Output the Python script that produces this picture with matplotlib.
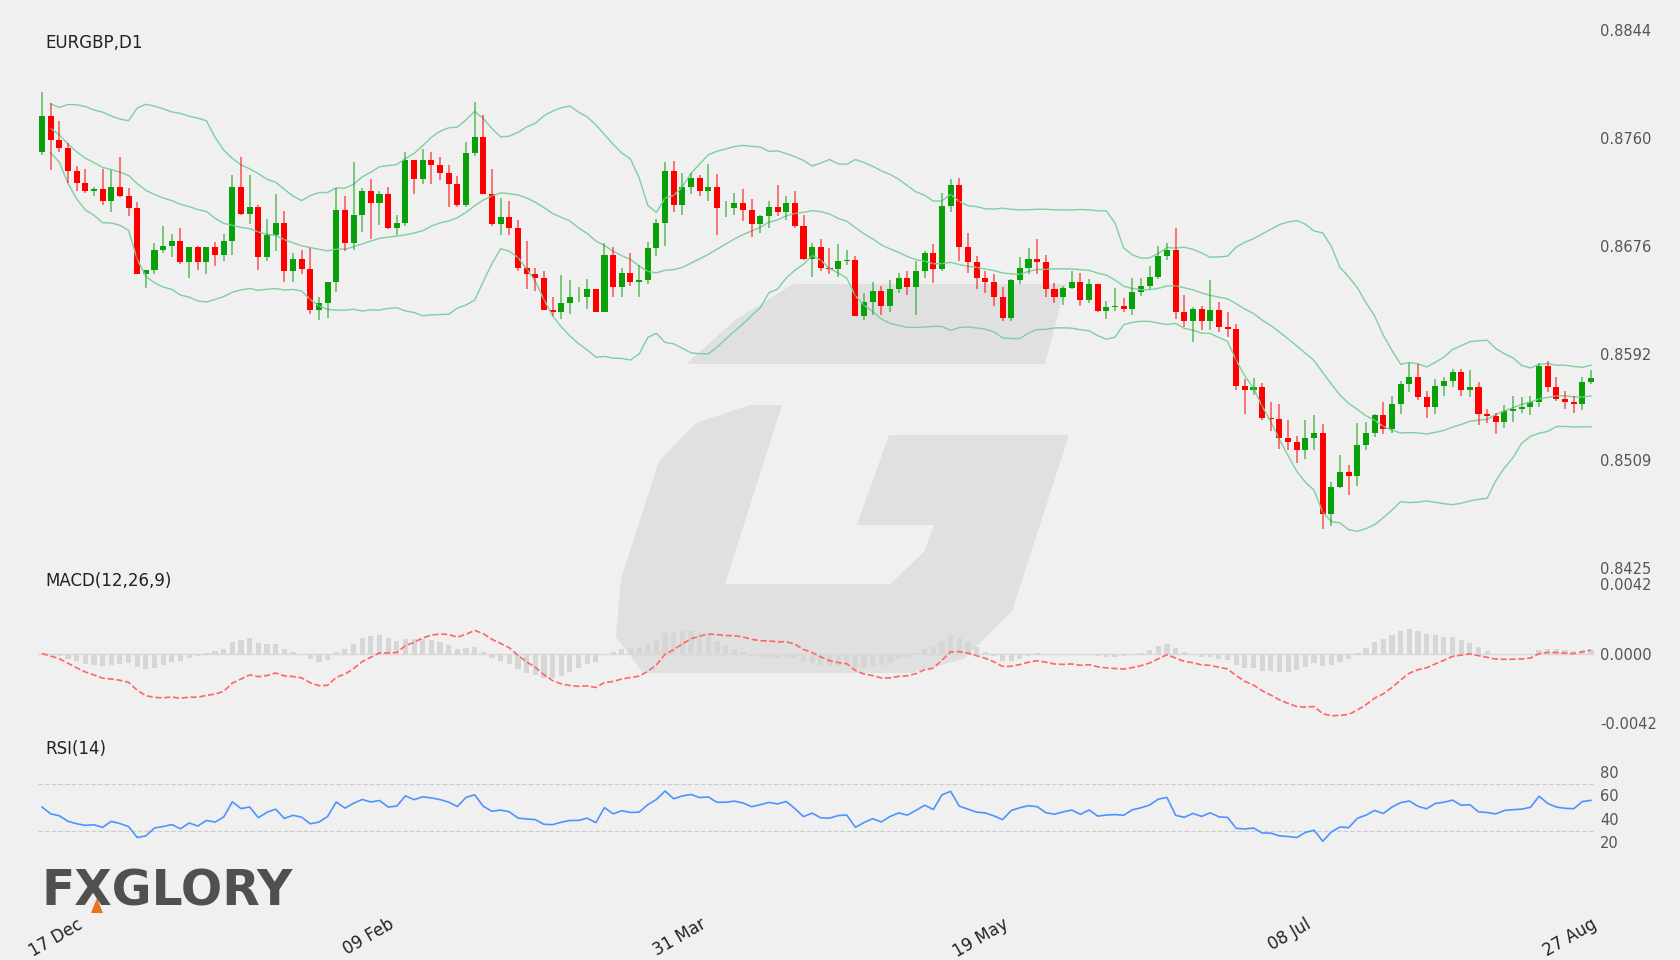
import numpy as np
import pandas as pd
import matplotlib
matplotlib.use("Agg")
import matplotlib.pyplot as plt
from matplotlib.patches import Polygon

symbol = "EURGBP,D1"
first_open = 0.8749
closes = [0.8777,0.8758,0.8752,0.8734,0.8725,0.8719,0.8720,0.8711,0.8722,0.8715,
          0.8705,0.8654,0.8657,0.8673,0.8676,0.8680,0.8663,0.8675,0.8663,0.8675,
          0.8669,0.8680,0.8722,0.8701,0.8706,0.8667,0.8684,0.8694,0.8656,0.8666,
          0.8658,0.8626,0.8631,0.8648,0.8704,0.8678,0.8700,0.8719,0.8709,0.8716,
          0.8690,0.8694,0.8743,0.8728,0.8743,0.8739,0.8733,0.8724,0.8708,0.8748,
          0.8761,0.8716,0.8693,0.8698,0.8690,0.8659,0.8654,0.8651,0.8626,0.8624,
          0.8631,0.8636,0.8636,0.8642,0.8624,0.8669,0.8644,0.8655,0.8648,0.8649,
          0.8674,0.8694,0.8734,0.8708,0.8722,0.8729,0.8719,0.8722,0.8705,0.8705,
          0.8709,0.8704,0.8693,0.8699,0.8706,0.8702,0.8709,0.8691,0.8666,0.8675,
          0.8659,0.8658,0.8664,0.8665,0.8621,0.8632,0.8641,0.8629,0.8642,0.8651,
          0.8644,0.8656,0.8670,0.8658,0.8707,0.8723,0.8675,0.8663,0.8651,0.8648,
          0.8636,0.8620,0.8649,0.8659,0.8666,0.8663,0.8642,0.8636,0.8643,0.8648,
          0.8634,0.8646,0.8625,0.8628,0.8629,0.8627,0.8640,0.8645,0.8652,0.8668,
          0.8673,0.8624,0.8617,0.8627,0.8617,0.8626,0.8613,0.8611,0.8567,0.8564,
          0.8566,0.8542,0.8541,0.8526,0.8523,0.8517,0.8526,0.8530,0.8467,0.8488,
          0.8500,0.8497,0.8521,0.8530,0.8544,0.8533,0.8553,0.8568,0.8574,0.8558,
          0.8550,0.8567,0.8571,0.8578,0.8564,0.8566,0.8545,0.8543,0.8539,0.8547,
          0.8549,0.8550,0.8554,0.8582,0.8566,0.8557,0.8554,0.8553,0.8570,0.8573]
# upper / lower wick lengths in pips
wick_up = [19,10,15,4,4,11,2,16,13,23,6,5,0,5,15,5,10,0,1,0,4,5,9,23,25,2,13,22,9,4,
           7,16,5,0,17,11,41,2,9,3,6,6,6,0,8,6,6,6,6,9,27,17,20,15,13,6,21,5,5,10,
           22,13,8,8,0,9,6,4,15,12,5,3,7,8,11,4,2,18,10,6,8,11,8,1,5,17,6,10,9,3,
           6,15,13,8,3,7,7,4,7,4,5,8,2,7,10,5,6,11,5,5,6,8,1,8,8,15,6,5,2,8,
           7,4,0,5,14,6,11,6,8,8,5,17,14,1,2,23,6,11,4,5,7,3,12,12,14,5,14,14,7,4,
           13,5,17,9,1,10,6,3,11,10,5,5,3,2,2,13,4,4,3,5,10,8,5,3,4,8,6,5,4,6]
wick_dn = [2,23,3,9,6,2,4,3,9,1,6,0,11,3,3,9,1,12,6,9,9,5,11,1,8,10,3,12,8,8,
           4,3,8,11,8,6,5,13,28,17,1,6,3,12,4,15,6,18,2,2,2,0,2,9,6,3,12,10,0,3,
           5,8,4,9,0,0,8,8,3,12,3,6,18,6,8,6,4,8,21,7,5,9,10,7,9,3,6,1,1,14,
           3,4,6,3,0,3,10,7,5,3,6,22,5,11,2,5,11,8,9,9,7,3,3,3,5,9,6,5,6,1,
           5,3,1,6,3,3,5,3,3,2,3,5,4,16,7,7,4,6,3,19,4,2,9,8,6,10,7,9,12,9,
           1,15,8,4,3,4,3,8,6,2,8,5,8,5,5,6,9,5,10,5,8,3,6,4,4,2,5,7,5,2]
tick_idx = [4, 40, 76, 111, 146, 179]
tick_labels = ["17 Dec", "09 Feb", "31 Mar", "19 May", "08 Jul", "27 Aug"]
price_ticks = [0.8844, 0.8760, 0.8676, 0.8592, 0.8509, 0.8425]
macd_ticks = [0.0042, 0.0000, -0.0042]
rsi_ticks = [80, 60, 40, 20]
rsi_seed_avg = 0.0006  # assumed average daily move before the window (pips warm-up)

c = pd.Series(closes)
o = pd.Series([first_open] + closes[:-1])
hi = np.maximum(o, c) + np.array(wick_up) * 1e-4
lo = np.minimum(o, c) - np.array(wick_dn) * 1e-4
x = np.arange(len(c))

mid = c.rolling(20, min_periods=2).mean()
sd = c.rolling(20, min_periods=2).std(ddof=0)
up_b, lo_b = mid + 2 * sd, mid - 2 * sd
macd = c.ewm(span=12, adjust=False).mean() - c.ewm(span=26, adjust=False).mean()
sig = macd.rolling(9, min_periods=1).mean()
hist = macd - sig
d = c.diff().fillna(0).values
ag, al = rsi_seed_avg, rsi_seed_avg
rsi = []
for dv in d:
    ag = (ag * 13 + max(dv, 0)) / 14
    al = (al * 13 + max(-dv, 0)) / 14
    rsi.append(100 - 100 / (1 + ag / al))

BG = "#f0f0f0"
W, H = 1680, 960
fig = plt.figure(figsize=(16.8, 9.6), dpi=100, facecolor=BG)

# watermark
wm = [(686,364),(1045,364),(1066,284),(793,284),(735,320)]
wm2 = [(750,405),(782,405),(725,584),(890,584),(924,552),(934,525),(857,525),(889,435),(1069,435),
       (1012,611),(964,659),(911,673),(643,673),(616,637),(621,579),(659,461),(696,423)]
for pts in (wm, wm2):
    fig.patches.append(Polygon([(px, H - py) for px, py in pts], closed=True, transform=None,
                               facecolor="#e0e0e0", edgecolor="none", zorder=-5))

L = (42 - 4.33) / W
Wd = (1591 + 4.33 - 42 + 4.33) / W
def mkax(ytop, ybot):
    ax = fig.add_axes([L, 1 - ybot / H, Wd, (ybot - ytop) / H])
    ax.set_facecolor("none")
    ax.set_zorder(2)
    ax.set_xlim(-0.5, len(c) - 0.5)
    for s in ax.spines.values():
        s.set_visible(False)
    ax.tick_params(axis="both", length=0, colors="#555555", labelsize=10.5)
    ax.yaxis.tick_right()
    ax.set_xticks([])
    return ax

ax1 = mkax(30, 568)
ax1.set_ylim(0.8425, 0.8844)
ax1.set_yticks(price_ticks)
ax1.set_yticklabels([f"{v:.4f}" for v in price_ticks])
ax1.plot(x, up_b, color="#7fcf9f", lw=1)
ax1.plot(x, mid, color="#7fcf9f", lw=1)
ax1.plot(x, lo_b, color="#7fcf9f", lw=1)
up = c >= o
cols = np.where(up, "#0aa00a", "#ff0000")
ax1.vlines(x, lo, hi, colors=cols, lw=1.2, alpha=0.6)
ax1.bar(x, (c - o).abs().clip(lower=0.00004), bottom=np.minimum(o, c), width=0.7, color=cols)
ax1.text(45 / W, 1 - 43 / H, symbol, transform=fig.transFigure, fontsize=12, color="#222222", va="center")

ax2 = mkax(584, 723)
ax2.set_ylim(-0.0042, 0.0042)
ax2.set_yticks(macd_ticks)
ax2.set_yticklabels(["0.0042", "0.0000", "-0.0042"])
ax2.axhline(0, color="#d8d8d8", lw=1)
ax2.bar(x, hist, width=0.6, color="#d6d6d6")
ax2.plot(x, macd, color="#ff6666", lw=1.2, ls="--")
ax2.text(45 / W, 1 - 581 / H, "MACD(12,26,9)", transform=fig.transFigure, fontsize=12, color="#222222", va="center")

ax3 = mkax(760, 854)
ax3.set_ylim(10, 90)
ax3.set_yticks(rsi_ticks)
for lv in (70, 30):
    ax3.axhline(lv, color="#cccccc", lw=0.9, ls="--")
ax3.plot(x, rsi, color="#4d94ff", lw=1.2)
ax3.text(45 / W, 1 - 749 / H, "RSI(14)", transform=fig.transFigure, fontsize=12, color="#222222", va="center")
ax3.set_xticks(tick_idx)
ax3.set_xticklabels(tick_labels, rotation=30, ha="right", rotation_mode="anchor", fontsize=12, color="#222222")
ax3.tick_params(axis="x", pad=44)

fig.text(41 / W, 1 - 892 / H, "FXGLORY", fontsize=35, fontweight="bold", color="#505050",
         va="center", ha="left", family="DejaVu Sans")
fig.patches.append(Polygon([(91, H - 913), (103, H - 913), (97, H - 898)], closed=True, transform=None,
                           facecolor="#e8731f", edgecolor="none"))

fig.savefig("out.png", dpi=100, facecolor=BG)
